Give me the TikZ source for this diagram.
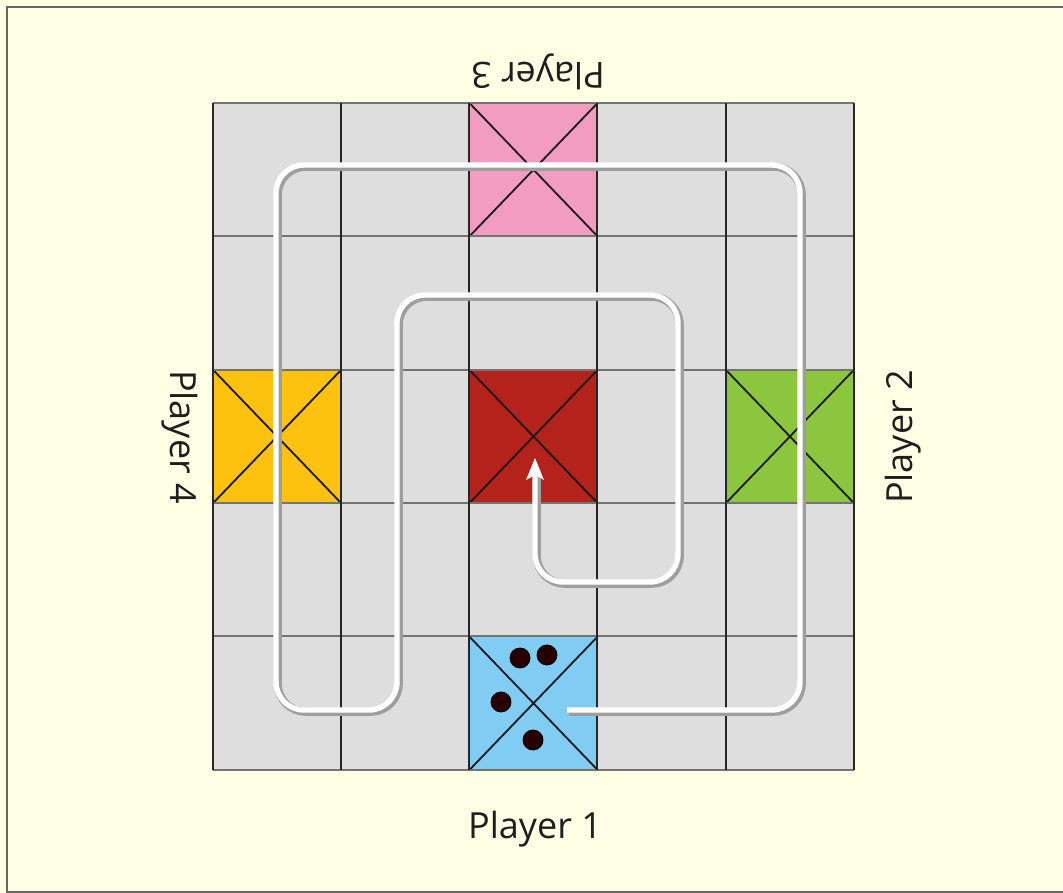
\documentclass[tikz,border=0pt]{standalone}
\usepackage{fontspec}
\setmainfont{Open Sans}
\usetikzlibrary{arrows.meta}
\definecolor{bg}{HTML}{FFFFE6}
\definecolor{cellgray}{HTML}{DEDEDE}
\definecolor{pinkc}{HTML}{F29CC2}
\definecolor{yellowc}{HTML}{FDC210}
\definecolor{redc}{HTML}{B3221B}
\definecolor{greenc}{HTML}{8CC63F}
\definecolor{bluec}{HTML}{80CCF3}
\definecolor{txt}{HTML}{1E1E1E}
\begin{document}
\begin{tikzpicture}[x=1pt,y=-1pt,
  cellbox/.style={minimum width=128.2pt,minimum height=133.4pt,inner sep=0pt,draw=none,fill=cellgray},
  vline/.style={draw=black!85,line width=2pt},
  hline/.style={draw=black!55,line width=2pt},
  xline/.style={draw=black!90,line width=1.8pt},
  dot/.style={circle,fill=black!85!red,draw=black,line width=0.8pt,minimum size=20pt,inner sep=0pt},
  label/.style={font=\fontsize{36}{40}\selectfont,text=txt,inner sep=0pt},
  pathshadow/.style={draw=black!38,line width=8pt,rounded corners=28pt},
  pathwhite/.style={draw=white,line width=5.4pt,rounded corners=28pt}]
\useasboundingbox (0,0) rectangle (1063,893);
\fill[bg] (0,0) rectangle (1063,893);
\draw[black!60,line width=2pt] (1063,891.5) -- (7,891.5) -- (7,7) -- (1063,7);
% cells
\foreach \r in {1,...,5}{
  \foreach \c in {1,...,5}{
    \node[cellbox] (cell-\r-\c) at ({213+128.2*(\c-0.5)},{103+133.4*(\r-0.5)}) {};
  }
}
\node[cellbox,fill=pinkc] at (cell-1-3) {};
\node[cellbox,fill=yellowc] at (cell-3-1) {};
\node[cellbox,fill=redc] at (cell-3-3) {};
\node[cellbox,fill=greenc] at (cell-3-5) {};
\node[cellbox,fill=bluec] at (cell-5-3) {};
% crosses
\foreach \r/\c in {1/3,3/1,3/3,3/5,5/3}{
  \draw[xline] (cell-\r-\c.north west) -- (cell-\r-\c.south east)
               (cell-\r-\c.north east) -- (cell-\r-\c.south west);
}
% grid lines
\foreach \r in {1,...,5}{
  \draw[hline] (cell-\r-1.north west) -- (cell-\r-5.north east);
}
\draw[hline] (cell-5-1.south west) -- (cell-5-5.south east);
\foreach \c in {1,...,5}{
  \draw[vline] (cell-1-\c.north west) -- (cell-5-\c.south west);
}
\draw[vline] (cell-1-5.north east) -- (cell-5-5.south east);
% dots
\node[dot] (d1) at (520,658) {};
\node[dot] (d2) at (547,655) {};
\node[dot] (d3) at (501,702) {};
\node[dot] (d4) at (533,740) {};
% route
\coordinate (s) at (567,710);
\coordinate (p1) at (800,710);
\coordinate (p2) at (800,165);
\coordinate (p3) at (276,165);
\coordinate (p4) at (276,710);
\coordinate (p5) at (397,710);
\coordinate (p6) at (397,295);
\coordinate (p7) at (678,295);
\coordinate (p8) at (678,582);
\coordinate (p9) at (535,582);
\coordinate (e) at (535,458);
\coordinate (eb) at (535,472);
\draw[pathshadow,transform canvas={shift={(1.8pt,-1.8pt)}}] (s) -- (p1) -- (p2) -- (p3) -- (p4) -- (p5) -- (p6) -- (p7) -- (p8) -- (p9) -- (eb);
\draw[pathwhite] (s) -- (p1) -- (p2) -- (p3) -- (p4) -- (p5) -- (p6) -- (p7) -- (p8) -- (p9) -- (eb);
\draw[draw=none,fill=white] (e) -- ++(-9,22) -- ++(9,-5) -- ++(9,5) -- cycle;
% labels
\node[label] (pl1) at (535,829) {Player 1};
\node[label,rotate=180] (pl3) at (538,72) {Player 3};
\node[label,rotate=90] (pl2) at (903,437) {Player 2};
\node[label,rotate=-90] (pl4) at (180,437) {Player 4};
\end{tikzpicture}
\end{document}
